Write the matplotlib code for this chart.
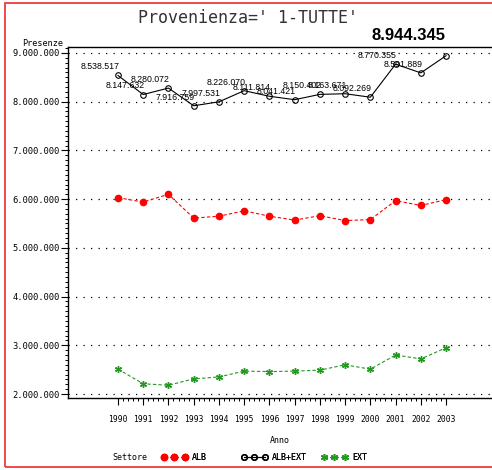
import matplotlib
matplotlib.use('Agg')
import matplotlib.pyplot as plt
from matplotlib.lines import Line2D
from matplotlib.patches import Rectangle
from matplotlib.ticker import FuncFormatter, FixedLocator, MultipleLocator
import numpy as np

# === Dati ===
anni = [1990, 1991, 1992, 1993, 1994, 1995, 1996, 1997, 1998, 1999, 2000, 2001, 2002, 2003]
alb_ext = [8538517, 8147632, 8280072, 7916759, 7997531, 8226070, 8111814,
           8041421, 8150402, 8163671, 8092269, 8770355, 8591889, 8944345]
alb = [6030000, 5940000, 6100000, 5610000, 5650000, 5760000, 5650000,
       5570000, 5660000, 5560000, 5580000, 5970000, 5870000, 5990000]
ext = [2510000, 2210000, 2180000, 2310000, 2350000, 2470000, 2460000,
       2470000, 2490000, 2600000, 2510000, 2800000, 2720000, 2950000]
y_ticks = [2000000, 3000000, 4000000, 5000000, 6000000, 7000000, 8000000, 9000000]

RED = '#ff0000'
GREEN = '#229a22'
BORDER = '#ee3b3b'
MONO = 'DejaVu Sans Mono'
SANS = 'Liberation Sans'


def fmt_it(v, pos=None):
    return f"{int(round(v)):,}".replace(',', '.')


fig = plt.figure(figsize=(4.92, 4.70), dpi=100)
ax = fig.add_axes([68 / 492, 72 / 470, 1 - 68 / 492, 351 / 470])

# griglia puntinata
for v in y_ticks:
    ax.axhline(v, color='black', lw=0.9, ls=(0, (1, 5)), zorder=1)

ax.plot(anni, alb, color=RED, ls=(0, (3, 2)), lw=0.8, marker='o', ms=4.5,
        mfc=RED, mec=RED, zorder=3)
ax.plot(anni, alb_ext, color='black', ls='-', lw=0.8, marker='o', ms=4,
        mfc='none', mec='black', mew=0.8, zorder=3)
ax.plot(anni, ext, color=GREEN, ls=(0, (3, 2)), lw=0.8, marker=(6, 2, 0), ms=5,
        mec=GREEN, mew=1.0, zorder=3)

# etichette punti ALB+EXT (l'ultimo è in grande)
for x, v in zip(anni[:-1], alb_ext[:-1]):
    ax.annotate(fmt_it(v), xy=(x, v), xytext=(1, 3), textcoords='offset points',
                ha='right', va='bottom', fontsize=6.3, family=SANS, zorder=4)
fig.text(408 / 492, 1 - 35 / 470, fmt_it(alb_ext[-1]), ha='center', va='center',
         fontsize=12, weight='bold', family=SANS)

# === Assi ===
ax.set_xlim(1988.02, 2004.82)
ax.set_ylim(1918000, 9123000)
ax.xaxis.set_major_locator(FixedLocator(anni))
ax.xaxis.set_minor_locator(FixedLocator(np.arange(anni[0], anni[-1] + 0.01, 0.2)))
ax.yaxis.set_major_locator(FixedLocator(y_ticks))
ax.yaxis.set_minor_locator(MultipleLocator(100000))
ax.yaxis.set_major_formatter(FuncFormatter(fmt_it))
ax.tick_params(axis='both', which='major', direction='out', length=5, width=0.8,
               colors='black')
ax.tick_params(axis='both', which='minor', direction='out', length=2.5, width=0.7)
ax.tick_params(axis='x', which='major', pad=7)
ax.tick_params(axis='y', which='major', pad=1)
for lab in ax.get_xticklabels():
    lab.set_family(MONO)
    lab.set_fontsize(5.8)
for lab in ax.get_yticklabels():
    lab.set_family(MONO)
    lab.set_fontsize(6.3)

for s in ['left', 'bottom', 'top']:
    ax.spines[s].set_linewidth(1.0)
ax.spines['right'].set_visible(False)

ax.set_xlabel('Anno', fontsize=6, family=MONO, labelpad=9)
fig.text(63 / 492, 1 - 43 / 470, 'Presenze', ha='right', va='center',
         fontsize=6.1, family=MONO)

# === Titolo ===
fig.text(248 / 492, 1 - 18 / 470, "Provenienza=' 1-TUTTE'", ha='center', va='center',
         fontsize=12, family=MONO, color='#333333')

# === Legenda ===
fig.text(130 / 492, 1 - 457 / 470, 'Settore', ha='center', va='center',
         fontsize=6, family=MONO)
voci = [
    (Line2D([], [], color=RED, ls=(0, (3, 2)), lw=0.8, marker='o', ms=4.5,
            mfc=RED, mec=RED), 'ALB', 161),
    (Line2D([], [], color='black', lw=0.8, marker='o', ms=4, mfc='none',
            mec='black'), 'ALB+EXT', 241),
    (Line2D([], [], color=GREEN, ls=(0, (3, 2)), lw=0.8, marker=(6, 2, 0), ms=5,
            mec=GREEN, mew=1.0), 'EXT', 321),
]
for h, lab, xpos in voci:
    leg = fig.legend(handles=[h], labels=[lab], loc='center left',
                     bbox_to_anchor=(xpos / 492, 1 - 457 / 470), frameon=False,
                     numpoints=3, handlelength=3.2, handletextpad=0.5,
                     borderpad=0, borderaxespad=0,
                     prop={'family': MONO, 'size': 6})
    fig.add_artist(leg)

# cornice rossa
fig.add_artist(Rectangle((5 / 492, 3 / 470), 1.0, 1 - 6 / 470, transform=fig.transFigure,
                         fill=False, edgecolor=BORDER, lw=1.3, clip_on=False))

fig.savefig('out.png', dpi=100, facecolor='white')
